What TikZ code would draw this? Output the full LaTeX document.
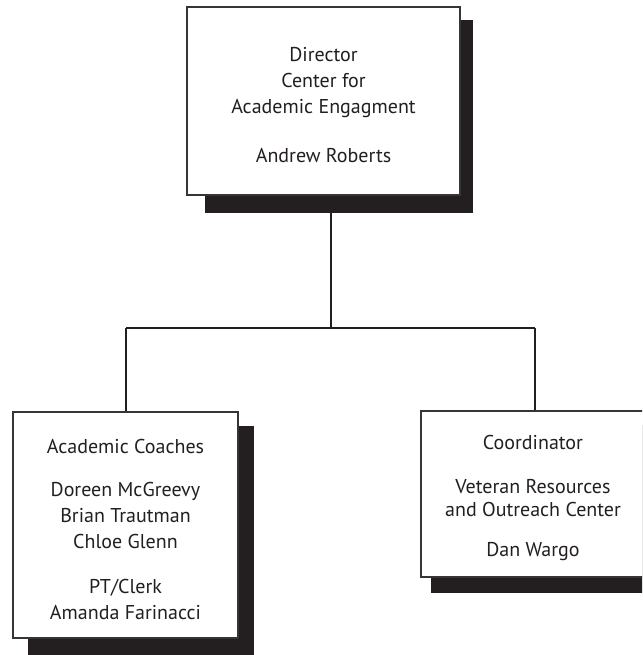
\documentclass[tikz,border=0pt]{standalone}
\usepackage{fontspec}
\setmainfont{PT Sans}
\definecolor{ink}{RGB}{35,31,32}
\definecolor{edge}{RGB}{55,52,53}
\newcommand{\topstrut}{\rule{0pt}{23pt}}
\begin{document}
\begin{tikzpicture}[x=1pt,y=-1pt,
  orgbox/.style={draw=edge,line width=1.3pt,fill=white,rectangle,inner sep=0pt,
    align=center,text=ink,font=\fontsize{20}{26}\selectfont},
  shadowfill/.style={fill=ink,draw=none},
  link/.style={draw=ink,line width=1.6pt}]
\useasboundingbox (0,0) rectangle (642,655);
\begin{scope}
\clip (0,0) rectangle (642,655);
% junctions
\coordinate (j) at (331,328);
\coordinate (bl) at (126,328);
\coordinate (br) at (535,328);
% shadows (drawn first)
\fill[shadowfill] (205,20) rectangle (473,213);
\fill[shadowfill] (28,426) rectangle (254,660);
\fill[shadowfill] (431,425) rectangle (665,593);
% boxes
\node[orgbox,minimum width=273pt,minimum height=188pt] (top) at (323.5,101)
  {\topstrut Director\\Center for\\Academic Engagment\\[23pt]Andrew Roberts};
\node[orgbox,minimum width=225pt,minimum height=226pt] (left) at (125.5,525)
  {\topstrut Academic Coaches\\[17pt]Doreen McGreevy\\Brian Trautman\\Chloe Glenn\\[19pt]PT/Clerk\\Amanda Farinacci};
\node[orgbox,minimum width=224pt,minimum height=166pt] (right) at (533,494)
  {\topstrut Coordinator\\[18pt]Veteran Resources\\[-3pt]and Outreach Center\\[14pt]Dan Wargo};
% connectors
\draw[link] (top.south -| j) -- (j);
\draw[link] (bl) -- (br);
\draw[link] (bl) -- (bl |- left.north);
\draw[link] (br) -- (br |- right.north);
\end{scope}
\end{tikzpicture}
\end{document}
